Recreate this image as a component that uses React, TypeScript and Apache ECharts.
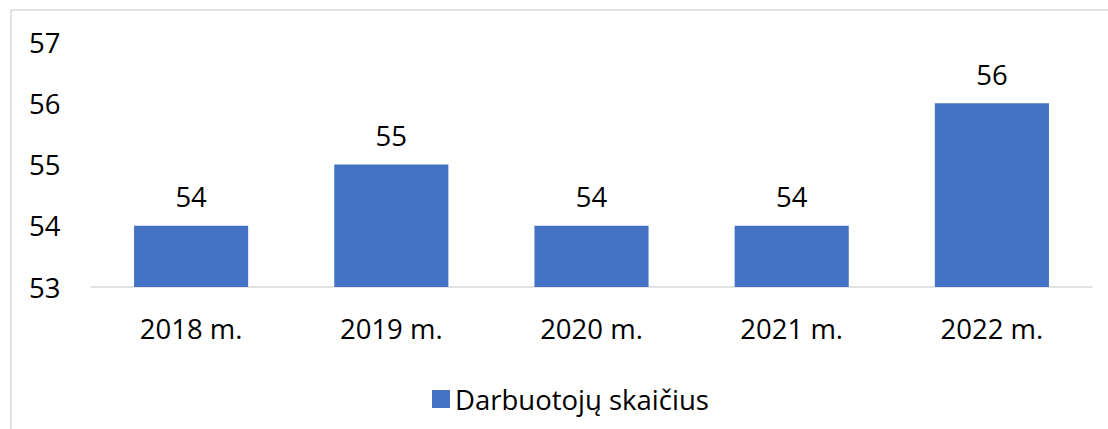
import React, { useEffect, useRef } from "react";
import * as echarts from "echarts";

const categories = ["2018 m.", "2019 m.", "2020 m.", "2021 m.", "2022 m."];
const values = [54, 55, 54, 54, 56];
const seriesName = "Darbuotojų skaičius";
const yMin = 53;
const yMax = 57;

export default function App() {
  const ref = useRef<HTMLDivElement>(null);
  useEffect(() => {
    if (!ref.current) return;
    const chart = echarts.init(ref.current, null, { renderer: "svg" });
    const font = "'Open Sans', sans-serif";
    const fs = 27.5;
    chart.setOption({
      animation: false,
      backgroundColor: "#ffffff",
      textStyle: { fontFamily: font },
      graphic: [
        {
          type: "rect",
          shape: { x: 11, y: 10, width: 1110, height: 440 },
          style: { fill: "none", stroke: "#d9d9d9", lineWidth: 1.5 },
          silent: true,
        },
      ],
      grid: { left: 91, right: 16, top: 42, bottom: 142 },
      legend: {
        left: 427,
        top: 380,
        itemWidth: 18,
        itemHeight: 18,
        itemGap: 10,
        icon: "rect",
        textStyle: { fontSize: fs, color: "#000", fontFamily: font },
        data: [seriesName],
      },
      xAxis: {
        type: "category",
        data: categories,
        axisLine: { show: true, lineStyle: { color: "#d9d9d9", width: 1.5 } },
        axisTick: { show: false },
        axisLabel: { fontSize: fs, color: "#000", margin: 27, fontFamily: font },
      },
      yAxis: {
        type: "value",
        min: yMin,
        max: yMax,
        interval: 1,
        axisLine: { show: false },
        axisTick: { show: false },
        splitLine: { show: false },
        axisLabel: { fontSize: fs, color: "#000", align: "left", margin: 62, fontFamily: font },
      },
      series: [
        {
          name: seriesName,
          type: "bar",
          data: values,
          barWidth: "57%",
          itemStyle: { color: "#4472C4" },
          label: {
            show: true,
            position: "top",
            distance: 15,
            fontSize: fs,
            color: "#000",
            fontFamily: font,
          },
        },
      ],
    });
    return () => chart.dispose();
  }, []);
  return (
    <div
      ref={ref}
      style={{ position: "fixed", left: 0, top: 0, width: 1108, height: 429 }}
    />
  );
}
